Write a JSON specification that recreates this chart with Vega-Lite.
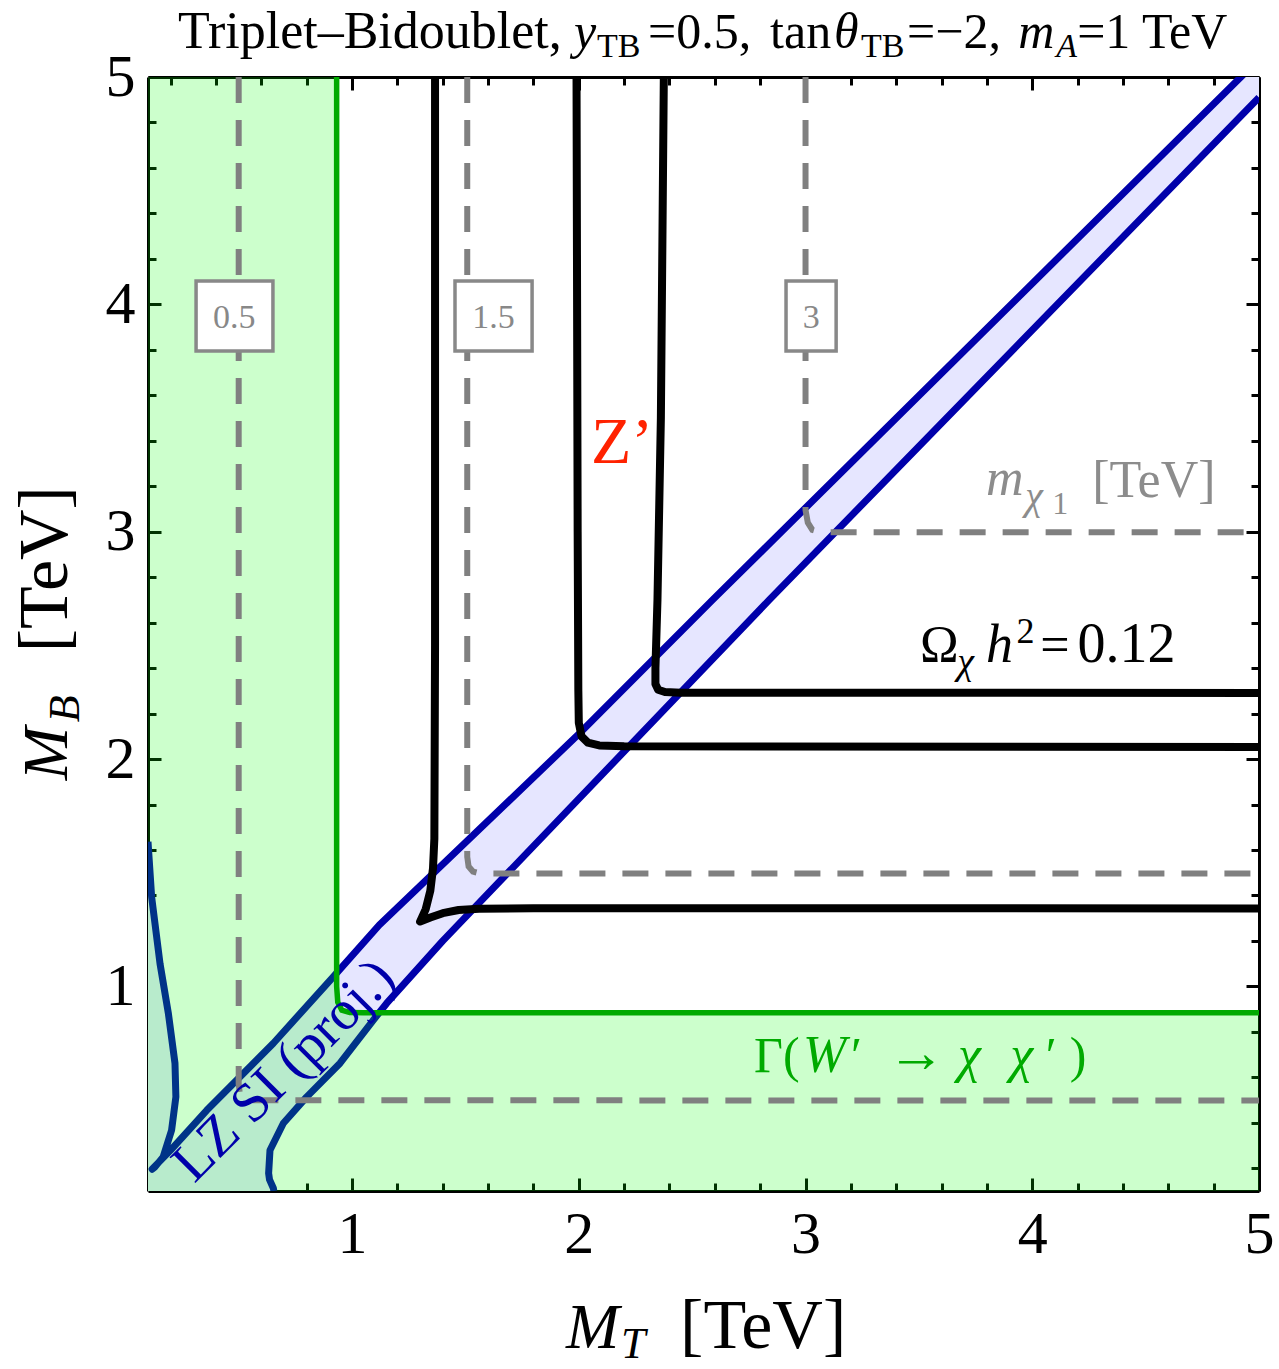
{
  "$schema": "https://vega.github.io/schema/vega-lite/v6.json",
  "width": 1111,
  "height": 1114,
  "autosize": {"type": "none"},
  "padding": {"left": 148, "top": 77, "right": 20, "bottom": 178},
  "background": "white",
  "config": {
    "view": {"stroke": null},
    "axis": {"domainColor": "black", "domainWidth": 3, "tickColor": "black", "tickWidth": 3, "labelFont": "Liberation Serif", "labelFontSize": 60, "labelColor": "black", "grid": false, "zindex": 1}
  },
  "encoding": {
    "x": {"field": "x", "type": "quantitative", "scale": {"domain": [0.1, 5], "nice": false, "zero": false}, "axis": null},
    "y": {"field": "y", "type": "quantitative", "scale": {"domain": [0.1, 5], "nice": false, "zero": false}, "axis": null}
  },
  "layer": [
    {
      "data": {"values": [
        {"y": 0.1, "x": 0.14}, {"y": 0.206, "x": 0.131}, {"y": 0.25, "x": 0.167}, {"y": 0.367, "x": 0.204},
        {"y": 0.514, "x": 0.223}, {"y": 0.662, "x": 0.219}, {"y": 0.88, "x": 0.19}, {"y": 1.1, "x": 0.153},
        {"y": 1.394, "x": 0.116}, {"y": 1.636, "x": 0.1}
      ]},
      "mark": {"type": "area", "orient": "horizontal", "fill": "#e6e6ff", "fillOpacity": 1},
      "encoding": {
        "x": {"field": "x", "type": "quantitative", "scale": {"domain": [0.1, 5], "nice": false, "zero": false},
              "axis": {"orient": "bottom", "values": [1, 2, 3, 4, 5], "tickSize": -13, "labelPadding": 27, "format": "d", "labelFlush": false, "labelOverlap": false, "title": null}},
        "x2": {"datum": 0.1},
        "y": {"field": "y", "type": "quantitative", "scale": {"domain": [0.1, 5], "nice": false, "zero": false},
              "axis": {"orient": "left", "values": [1, 2, 3, 4, 5], "tickSize": -13, "labelPadding": 26, "format": "d", "labelFlush": false, "labelOverlap": false, "title": null}}
      }
    },
    {
      "data": {"values": [
        {"y": 0.1, "x": 0.1, "x2": 0.655}, {"y": 0.15, "x": 0.1, "x2": 0.638}, {"y": 0.2, "x": 0.12, "x2": 0.632},
        {"y": 0.28, "x": 0.199, "x2": 0.638}, {"y": 0.4, "x": 0.309, "x2": 0.698}, {"y": 0.52, "x": 0.424, "x2": 0.806},
        {"y": 0.66, "x": 0.563, "x2": 0.947}, {"y": 0.85, "x": 0.743, "x2": 1.093}, {"y": 0.93, "x": 0.816, "x2": 1.156},
        {"y": 1.05, "x": 0.925, "x2": 1.265}, {"y": 1.2, "x": 1.058, "x2": 1.4}, {"y": 1.35, "x": 1.2, "x2": 1.544}
      ]},
      "mark": {"type": "area", "orient": "horizontal", "fill": "#e6e6ff", "fillOpacity": 1},
      "encoding": {
        "x": {"field": "x", "type": "quantitative", "scale": {"domain": [0.1, 5], "nice": false, "zero": false},
              "axis": {"orient": "bottom", "values": [0.2, 0.4, 0.6, 0.8, 1.2, 1.4, 1.6, 1.8, 2.2, 2.4, 2.6, 2.8, 3.2, 3.4, 3.6, 3.8, 4.2, 4.4, 4.6, 4.8], "tickSize": -8, "labels": false, "domain": false, "title": null}},
        "x2": {"field": "x2"},
        "y": {"field": "y", "type": "quantitative", "scale": {"domain": [0.1, 5], "nice": false, "zero": false},
              "axis": {"orient": "left", "values": [0.2, 0.4, 0.6, 0.8, 1.2, 1.4, 1.6, 1.8, 2.2, 2.4, 2.6, 2.8, 3.2, 3.4, 3.6, 3.8, 4.2, 4.4, 4.6, 4.8], "tickSize": -8, "labels": false, "domain": false, "title": null}}
      }
    },
    {
      "data": {"values": [
        {"x": 1.15, "y": 1.299, "y2": 0.923}, {"x": 1.4, "y": 1.537, "y2": 1.2}, {"x": 2.0, "y": 2.11, "y2": 1.825},
        {"x": 2.84, "y": 2.947, "y2": 2.7}, {"x": 4.0, "y": 4.092, "y2": 3.887}, {"x": 4.92, "y": 5.0, "y2": 4.828}, {"x": 5.0, "y": 5.0, "y2": 4.91}
      ]},
      "mark": {"type": "area", "orient": "vertical", "fill": "#e6e6ff", "fillOpacity": 1},
      "encoding": {
        "x": {"field": "x", "type": "quantitative", "scale": {"domain": [0.1, 5], "nice": false, "zero": false},
              "axis": {"orient": "top", "values": [1, 2, 3, 4, 5], "tickSize": -13, "labels": false, "title": null}},
        "y": {"field": "y", "type": "quantitative", "scale": {"domain": [0.1, 5], "nice": false, "zero": false},
              "axis": {"orient": "right", "values": [1, 2, 3, 4, 5], "tickSize": -13, "labels": false, "title": null}},
        "y2": {"field": "y2"}
      }
    },
    {
      "data": {"values": [
        {"p": "a", "i": 0, "x": 0.1, "y": 1.636}, {"p": "a", "i": 1, "x": 0.116, "y": 1.394}, {"p": "a", "i": 2, "x": 0.153, "y": 1.1},
        {"p": "a", "i": 3, "x": 0.19, "y": 0.88}, {"p": "a", "i": 4, "x": 0.219, "y": 0.662}, {"p": "a", "i": 5, "x": 0.223, "y": 0.514},
        {"p": "a", "i": 6, "x": 0.204, "y": 0.367}, {"p": "a", "i": 7, "x": 0.167, "y": 0.25}, {"p": "a", "i": 8, "x": 0.131, "y": 0.206},
        {"p": "a", "i": 9, "x": 0.118, "y": 0.196}, {"p": "a", "i": 10, "x": 0.2, "y": 0.28}, {"p": "a", "i": 11, "x": 0.359, "y": 0.455},
        {"p": "a", "i": 12, "x": 0.653, "y": 0.75}, {"p": "a", "i": 13, "x": 0.917, "y": 1.042}, {"p": "a", "i": 14, "x": 1.12, "y": 1.27},
        {"p": "a", "i": 15, "x": 2.0, "y": 2.11}, {"p": "a", "i": 16, "x": 2.59, "y": 2.7}, {"p": "a", "i": 17, "x": 4.92, "y": 5.0},
        {"p": "a", "i": 18, "x": 5.0, "y": 5.079},
        {"p": "b", "i": 0, "x": 0.655, "y": 0.1}, {"p": "b", "i": 1, "x": 0.653, "y": 0.112}, {"p": "b", "i": 2, "x": 0.636, "y": 0.15},
        {"p": "b", "i": 3, "x": 0.632, "y": 0.178}, {"p": "b", "i": 4, "x": 0.638, "y": 0.279}, {"p": "b", "i": 5, "x": 0.697, "y": 0.398},
        {"p": "b", "i": 6, "x": 0.8, "y": 0.514}, {"p": "b", "i": 7, "x": 0.947, "y": 0.662}, {"p": "b", "i": 8, "x": 1.093, "y": 0.851},
        {"p": "b", "i": 9, "x": 1.153, "y": 0.926}, {"p": "b", "i": 10, "x": 1.4, "y": 1.2}, {"p": "b", "i": 11, "x": 2.84, "y": 2.7},
        {"p": "b", "i": 12, "x": 5.0, "y": 4.91}
      ]},
      "mark": {"type": "line", "color": "#0000aa", "strokeWidth": 7, "clip": true, "strokeJoin": "round"},
      "encoding": {"detail": {"field": "p"}, "order": {"field": "i", "type": "quantitative"}}
    },
    {
      "data": {"values": [
        {"x": 0.1, "y": 5}, {"x": 0.9319, "y": 5}, {"x": 0.932, "y": 1.0}, {"x": 0.937, "y": 0.93},
        {"x": 0.955, "y": 0.895}, {"x": 0.99, "y": 0.885}, {"x": 1.05, "y": 0.884}, {"x": 5, "y": 0.884}
      ]},
      "mark": {"type": "area", "orient": "vertical", "fill": "#00ff00", "fillOpacity": 0.2},
      "encoding": {
        "x": {"field": "x", "type": "quantitative", "scale": {"domain": [0.1, 5], "nice": false, "zero": false},
              "axis": {"orient": "top", "values": [0.2, 0.4, 0.6, 0.8, 1.2, 1.4, 1.6, 1.8, 2.2, 2.4, 2.6, 2.8, 3.2, 3.4, 3.6, 3.8, 4.2, 4.4, 4.6, 4.8], "tickSize": -8, "labels": false, "domain": false, "title": null}},
        "y": {"field": "y", "type": "quantitative", "scale": {"domain": [0.1, 5], "nice": false, "zero": false},
              "axis": {"orient": "right", "values": [0.2, 0.4, 0.6, 0.8, 1.2, 1.4, 1.6, 1.8, 2.2, 2.4, 2.6, 2.8, 3.2, 3.4, 3.6, 3.8, 4.2, 4.4, 4.6, 4.8], "tickSize": -8, "labels": false, "domain": false, "title": null}},
        "y2": {"datum": 0.1}
      }
    },
    {
      "data": {"values": [
        {"i": 1, "x": 0.932, "y": 5}, {"i": 2, "x": 0.932, "y": 1.0}, {"i": 3, "x": 0.937, "y": 0.93},
        {"i": 4, "x": 0.955, "y": 0.895}, {"i": 5, "x": 0.99, "y": 0.885}, {"i": 6, "x": 1.05, "y": 0.884}, {"i": 7, "x": 5, "y": 0.884}
      ]},
      "mark": {"type": "line", "color": "#00aa00", "strokeWidth": 5.5, "clip": true},
      "encoding": {"order": {"field": "i", "type": "quantitative"}}
    },
    {
      "data": {"values": [
        {"p": "a", "i": 0, "x": 1.366, "y": 5}, {"p": "a", "i": 1, "x": 1.366, "y": 2.5}, {"p": "a", "i": 2, "x": 1.363, "y": 1.65},
        {"p": "a", "i": 3, "x": 1.357, "y": 1.52}, {"p": "a", "i": 4, "x": 1.345, "y": 1.42}, {"p": "a", "i": 5, "x": 1.325, "y": 1.34},
        {"p": "a", "i": 6, "x": 1.3, "y": 1.285}, {"p": "a", "i": 7, "x": 1.345, "y": 1.303}, {"p": "a", "i": 8, "x": 1.4, "y": 1.322},
        {"p": "a", "i": 9, "x": 1.47, "y": 1.336}, {"p": "a", "i": 10, "x": 1.56, "y": 1.342}, {"p": "a", "i": 11, "x": 1.8, "y": 1.344},
        {"p": "a", "i": 12, "x": 5, "y": 1.343},
        {"p": "b", "i": 0, "x": 1.99, "y": 5}, {"p": "b", "i": 1, "x": 1.995, "y": 3.0}, {"p": "b", "i": 2, "x": 1.998, "y": 2.3},
        {"p": "b", "i": 3, "x": 2.0, "y": 2.16}, {"p": "b", "i": 4, "x": 2.012, "y": 2.1}, {"p": "b", "i": 5, "x": 2.04, "y": 2.072},
        {"p": "b", "i": 6, "x": 2.09, "y": 2.06}, {"p": "b", "i": 7, "x": 2.2, "y": 2.056}, {"p": "b", "i": 8, "x": 5, "y": 2.053},
        {"p": "c", "i": 0, "x": 2.375, "y": 5}, {"p": "c", "i": 1, "x": 2.362, "y": 3.5}, {"p": "c", "i": 2, "x": 2.347, "y": 2.7},
        {"p": "c", "i": 3, "x": 2.338, "y": 2.4}, {"p": "c", "i": 4, "x": 2.338, "y": 2.33}, {"p": "c", "i": 5, "x": 2.35, "y": 2.305},
        {"p": "c", "i": 6, "x": 2.38, "y": 2.295}, {"p": "c", "i": 7, "x": 2.45, "y": 2.292}, {"p": "c", "i": 8, "x": 5, "y": 2.291}
      ]},
      "mark": {"type": "line", "color": "black", "strokeWidth": 8, "clip": true, "strokeJoin": "round"},
      "encoding": {"detail": {"field": "p"}, "order": {"field": "i", "type": "quantitative"}}
    },
    {
      "data": {"values": [
        {"p": "a", "i": 0, "x": 0.5, "y": 5}, {"p": "a", "i": 1, "x": 0.5, "y": 0.57}, {"p": "a", "i": 2, "x": 0.505, "y": 0.528},
        {"p": "a", "i": 3, "x": 0.52, "y": 0.507}, {"p": "a", "i": 4, "x": 0.55, "y": 0.499}, {"p": "a", "i": 5, "x": 5, "y": 0.498},
        {"p": "b", "i": 0, "x": 1.508, "y": 5}, {"p": "b", "i": 1, "x": 1.508, "y": 1.57}, {"p": "b", "i": 2, "x": 1.514, "y": 1.527},
        {"p": "b", "i": 3, "x": 1.533, "y": 1.505}, {"p": "b", "i": 4, "x": 1.565, "y": 1.497}, {"p": "b", "i": 5, "x": 5, "y": 1.497},
        {"p": "c", "i": 0, "x": 3.0, "y": 5}, {"p": "c", "i": 1, "x": 3.0, "y": 3.095}, {"p": "c", "i": 2, "x": 3.01, "y": 3.04},
        {"p": "c", "i": 3, "x": 3.03, "y": 3.008}, {"p": "c", "i": 4, "x": 3.065, "y": 2.998}, {"p": "c", "i": 5, "x": 5, "y": 2.997}
      ]},
      "mark": {"type": "line", "color": "#808080", "strokeWidth": 6, "strokeDash": [26, 17], "clip": true},
      "encoding": {"detail": {"field": "p"}, "order": {"field": "i", "type": "quantitative"}}
    },
    {
      "data": {"values": [
        {"t": "0.5", "x": 0.312, "x2": 0.651, "y": 3.795, "y2": 4.103, "xm": 0.48, "yb": 3.896},
        {"t": "1.5", "x": 1.454, "x2": 1.794, "y": 3.795, "y2": 4.103, "xm": 1.624, "yb": 3.896},
        {"t": "3", "x": 2.914, "x2": 3.135, "y": 3.795, "y2": 4.103, "xm": 3.025, "yb": 3.896}
      ]},
      "layer": [
        {"mark": {"type": "rect", "fill": "white", "stroke": "#888888", "strokeWidth": 3.5},
         "encoding": {"x2": {"field": "x2"}, "y2": {"field": "y2"}}},
        {"mark": {"type": "text", "font": "Liberation Serif", "fontSize": 34, "color": "#888888", "align": "center", "baseline": "alphabetic"},
         "encoding": {"x": {"field": "xm", "type": "quantitative"}, "y": {"field": "yb", "type": "quantitative"}, "text": {"field": "t"}}}
      ]
    },
    {
      "data": {"values": [{"t": "Triplet–Bidoublet,", "x": 0.2323, "y": 5.1276}]},
      "mark": {"type": "text", "font": "Liberation Serif", "fontSize": 52, "color": "black", "align": "left", "baseline": "alphabetic"},
      "encoding": {"text": {"field": "t"}}
    },
    {
      "data": {"values": [
        {"t": "=0.5,", "x": 2.3056, "y": 5.1276}, {"t": "tan", "x": 2.8437, "y": 5.1276},
        {"t": "=−2,", "x": 3.448, "y": 5.1276}, {"t": "=1 TeV", "x": 4.198, "y": 5.1276}
      ]},
      "mark": {"type": "text", "font": "Liberation Serif", "fontSize": 50, "color": "black", "align": "left", "baseline": "alphabetic"},
      "encoding": {"text": {"field": "t"}}
    },
    {
      "data": {"values": [{"t": "y", "x": 1.9791, "y": 5.1276}, {"t": "θ", "x": 3.1261, "y": 5.1276}, {"t": "m", "x": 3.9377, "y": 5.1276}]},
      "mark": {"type": "text", "font": "Liberation Serif", "fontSize": 50, "fontStyle": "italic", "color": "black", "align": "left", "baseline": "alphabetic"},
      "encoding": {"text": {"field": "t"}}
    },
    {
      "data": {"values": [{"t": "TB", "x": 2.0806, "y": 5.088}, {"t": "TB", "x": 3.2451, "y": 5.088}]},
      "mark": {"type": "text", "font": "Liberation Serif", "fontSize": 34, "color": "black", "align": "left", "baseline": "alphabetic"},
      "encoding": {"text": {"field": "t"}}
    },
    {
      "data": {"values": [{"t": "A", "x": 4.1053, "y": 5.088}]},
      "mark": {"type": "text", "font": "Liberation Serif", "fontSize": 34, "fontStyle": "italic", "color": "black", "align": "left", "baseline": "alphabetic"},
      "encoding": {"text": {"field": "t"}}
    },
    {
      "data": {"values": [{"t": "2", "x": 3.93, "y": 2.5099}]},
      "mark": {"type": "text", "font": "Liberation Serif", "fontSize": 36, "color": "black", "align": "left", "baseline": "alphabetic"},
      "encoding": {"text": {"field": "t"}}
    },
    {
      "data": {"values": [{"t": "χ", "x": 3.6686, "y": 2.3735}]},
      "mark": {"type": "text", "font": "Liberation Serif", "fontSize": 38, "fontStyle": "italic", "color": "black", "align": "left", "baseline": "alphabetic"},
      "encoding": {"text": {"field": "t"}}
    },
    {
      "data": {"values": [{"t": "Ω", "x": 3.5054, "y": 2.4263}, {"t": "=", "x": 4.035, "y": 2.4263}]},
      "mark": {"type": "text", "font": "Liberation Serif", "fontSize": 52, "color": "black", "align": "left", "baseline": "alphabetic"},
      "encoding": {"text": {"field": "t"}}
    },
    {
      "data": {"values": [{"t": "0.12", "x": 4.2, "y": 2.4263}]},
      "mark": {"type": "text", "font": "Liberation Serif", "fontSize": 56, "color": "black", "align": "left", "baseline": "alphabetic"},
      "encoding": {"text": {"field": "t"}}
    },
    {
      "data": {"values": [{"t": "h", "x": 3.7965, "y": 2.4263}]},
      "mark": {"type": "text", "font": "Liberation Serif", "fontSize": 54, "fontStyle": "italic", "color": "black", "align": "left", "baseline": "alphabetic"},
      "encoding": {"text": {"field": "t"}}
    },
    {
      "data": {"values": [{"t": "M", "x": 1.9439, "y": -0.592}]},
      "mark": {"type": "text", "font": "Liberation Serif", "fontSize": 64, "fontStyle": "italic", "color": "black", "align": "left", "baseline": "alphabetic"},
      "encoding": {"text": {"field": "t"}}
    },
    {
      "data": {"values": [{"t": "T", "x": 2.1865, "y": -0.636}]},
      "mark": {"type": "text", "font": "Liberation Serif", "fontSize": 44, "fontStyle": "italic", "color": "black", "align": "left", "baseline": "alphabetic"},
      "encoding": {"text": {"field": "t"}}
    },
    {
      "data": {"values": [{"t": "[TeV]", "x": 2.4467, "y": -0.592}]},
      "mark": {"type": "text", "font": "Liberation Serif", "fontSize": 70, "color": "black", "align": "left", "baseline": "alphabetic"},
      "encoding": {"text": {"field": "t"}}
    },
    {
      "data": {"values": [{"t": "M", "x": -0.257, "y": 1.9072}]},
      "mark": {"type": "text", "font": "Liberation Serif", "fontSize": 64, "fontStyle": "italic", "color": "black", "align": "left", "baseline": "alphabetic", "angle": 270},
      "encoding": {"text": {"field": "t"}}
    },
    {
      "data": {"values": [{"t": "B", "x": -0.204, "y": 2.1623}]},
      "mark": {"type": "text", "font": "Liberation Serif", "fontSize": 44, "fontStyle": "italic", "color": "black", "align": "left", "baseline": "alphabetic", "angle": 270},
      "encoding": {"text": {"field": "t"}}
    },
    {
      "data": {"values": [{"t": "[TeV]", "x": -0.257, "y": 2.47}]},
      "mark": {"type": "text", "font": "Liberation Serif", "fontSize": 70, "color": "black", "align": "left", "baseline": "alphabetic", "angle": 270},
      "encoding": {"text": {"field": "t"}}
    },
    {
      "data": {"values": [{"t": "Z’", "x": 2.054, "y": 3.302}]},
      "mark": {"type": "text", "font": "Liberation Serif", "fontSize": 66, "color": "#ff2200", "align": "left", "baseline": "alphabetic"},
      "encoding": {"text": {"field": "t"}}
    },
    {
      "data": {"values": [{"t": "m", "x": 3.7965, "y": 3.161}]},
      "mark": {"type": "text", "font": "Liberation Serif", "fontSize": 52, "fontStyle": "italic", "color": "#8c8c8c", "align": "left", "baseline": "alphabetic"},
      "encoding": {"text": {"field": "t"}}
    },
    {
      "data": {"values": [{"t": "χ", "x": 3.9686, "y": 3.1}]},
      "mark": {"type": "text", "font": "Liberation Serif", "fontSize": 40, "fontStyle": "italic", "color": "#8c8c8c", "align": "left", "baseline": "alphabetic"},
      "encoding": {"text": {"field": "t"}}
    },
    {
      "data": {"values": [{"t": "1", "x": 4.0877, "y": 3.08}]},
      "mark": {"type": "text", "font": "Liberation Serif", "fontSize": 32, "color": "#8c8c8c", "align": "left", "baseline": "alphabetic"},
      "encoding": {"text": {"field": "t"}}
    },
    {
      "data": {"values": [{"t": "[TeV]", "x": 4.2641, "y": 3.1522}]},
      "mark": {"type": "text", "font": "Liberation Serif", "fontSize": 52, "color": "#8c8c8c", "align": "left", "baseline": "alphabetic"},
      "encoding": {"text": {"field": "t"}}
    },
    {
      "data": {"values": [
        {"t": "Γ(", "x": 2.7731, "y": 0.6226}, {"t": "′", "x": 3.2, "y": 0.6226},
        {"t": "′", "x": 4.06, "y": 0.6226}, {"t": ")", "x": 4.165, "y": 0.6226}
      ]},
      "mark": {"type": "text", "font": "Liberation Serif", "fontSize": 50, "color": "#00aa00", "align": "left", "baseline": "alphabetic"},
      "encoding": {"text": {"field": "t"}}
    },
    {
      "data": {"values": [{"t": "→", "x": 3.36, "y": 0.6226}]},
      "mark": {"type": "text", "font": "Liberation Serif", "fontSize": 58, "color": "#00aa00", "align": "left", "baseline": "alphabetic"},
      "encoding": {"text": {"field": "t"}}
    },
    {
      "data": {"values": [{"t": "W", "x": 2.9893, "y": 0.6226}, {"t": "χ", "x": 3.673, "y": 0.6226}, {"t": "χ", "x": 3.9024, "y": 0.6226}]},
      "mark": {"type": "text", "font": "Liberation Serif", "fontSize": 52, "fontStyle": "italic", "color": "#00aa00", "align": "left", "baseline": "alphabetic"},
      "encoding": {"text": {"field": "t"}}
    },
    {
      "data": {"values": [{"t": "LZ SI (proj.)", "x": 0.7, "y": 0.63}]},
      "mark": {"type": "text", "font": "Liberation Serif", "fontSize": 56, "color": "#0000aa", "align": "center", "baseline": "middle", "angle": 315},
      "encoding": {"text": {"field": "t"}}
    }
  ],
  "resolve": {"axis": {"x": "independent", "y": "independent"}}
}
